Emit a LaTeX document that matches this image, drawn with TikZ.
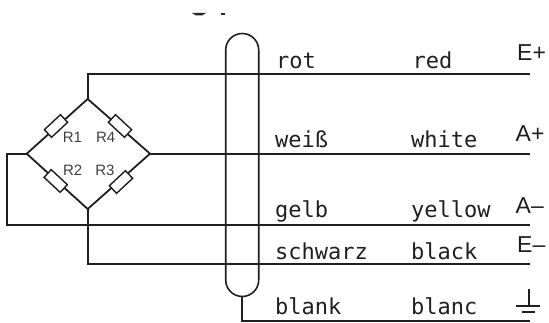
\documentclass[tikz,border=0pt]{standalone}
\usepackage{fontspec}
\setmainfont{Liberation Sans}
\newfontfamily\monof{DejaVu Sans Mono}
\begin{document}
\begin{tikzpicture}[x=1pt,y=-1pt,
  wire/.style={line width=1.8pt,draw=black!88},
  shield/.style={line width=1.6pt,draw=black!88},
  resbox/.style={draw=black!88,fill=white,line width=1.4pt,minimum width=22pt,minimum height=10.5pt,inner sep=0pt,outer sep=0pt},
  rlabel/.style={font=\fontsize{15}{16}\selectfont,text=black!75,inner sep=0pt},
  mono/.style={font=\monof\fontsize{22}{24}\selectfont,text=black!88,inner sep=0pt,anchor=base west},
  term/.style={font=\fontsize{23}{24}\selectfont,text=black!88,inner sep=0pt,anchor=base west}]
\useasboundingbox (0,0) rectangle (549,323);
\coordinate (top) at (87.7,99);
\coordinate (left) at (26.7,153.7);
\coordinate (right) at (150,153.7);
\coordinate (bot) at (87.7,209);
\coordinate (e1) at (530,74);
\coordinate (e2) at (530,153.7);
\coordinate (e3) at (530,225.3);
\coordinate (e4) at (530,263.7);
\coordinate (c1) at (87.7,74);
\coordinate (c3) at (7.3,225.3);
\coordinate (c3b) at (7.3,153.7);
\coordinate (c4) at (87.7,263.7);
\coordinate (sb) at (241.7,296.5);
\coordinate (sc) at (241.7,321.3);
\coordinate (se) at (530,321.3);
\draw[wire] (top) -- (right) -- (bot) -- (left) -- cycle;
\draw[wire] (top) -- (c1) -- (e1);
\draw[wire] (right) -- (e2);
\draw[wire] (left) -- (c3b) -- (c3) -- (e3);
\draw[wire] (bot) -- (c4) -- (e4);
\draw[wire] (sb) -- (sc) -- (se);
\node[resbox,rotate=43] (r1) at (56,126) {};
\node[resbox,rotate=-43] (r4) at (120,126) {};
\node[resbox,rotate=-43] (r2) at (55.7,181) {};
\node[resbox,rotate=43] (r3) at (121,182) {};
\node[rlabel] (l1) at (72.5,137.5) {R1};
\node[rlabel] (l4) at (105.7,137.5) {R4};
\node[rlabel] (l2) at (72.7,170.5) {R2};
\node[rlabel] (l3) at (105,170.5) {R3};
\draw[shield] (225.7,280) -- (225.7,50) arc[start angle=180,end angle=360,radius=16.5] -- (258.7,280) arc[start angle=0,end angle=180,radius=16.5] -- cycle;
\node[mono] (a1) at (276,69) {rot};
\node[mono] (a2) at (275,147.7) {weiß};
\node[mono] (a3) at (275,217.3) {gelb};
\node[mono] (a4) at (275,259.3) {schwarz};
\node[mono] (a5) at (275,314.7) {blank};
\node[mono] (b1) at (412.5,69) {red};
\node[mono] (b2) at (411,147.7) {white};
\node[mono] (b3) at (411,217.3) {yellow};
\node[mono] (b4) at (411,259.3) {black};
\node[mono] (b5) at (411,314.7) {blanc};
\node[term] (t1) at (517,61) {E+};
\node[term] (t2) at (515.5,141.7) {A+};
\node[term] (t3) at (515.5,213.3) {A–};
\node[term] (t4) at (517,252.7) {E–};
\coordinate (g1) at (529.3,289);
\coordinate (g2) at (529.3,306);
\coordinate (g3l) at (516,306);
\coordinate (g3r) at (540,306);
\coordinate (g4l) at (521.7,311.7);
\coordinate (g4r) at (535,311.7);
\draw[wire] (g1) -- (g2) (g3l) -- (g3r) (g4l) -- (g4r);
\fill[black!85] (192,13) -- (206,13) -- (202,15.5) -- (196,15.5) -- cycle;
\fill[black!85] (221,13) rectangle (224.5,15.5);
\end{tikzpicture}
\end{document}
